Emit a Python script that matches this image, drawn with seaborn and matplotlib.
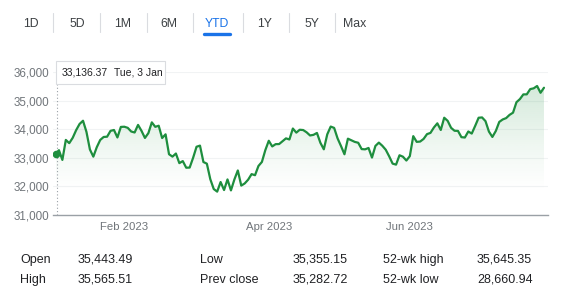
import numpy as np
import pandas as pd
import matplotlib
matplotlib.use("Agg")
import matplotlib.pyplot as plt
import seaborn as sns
from matplotlib.patches import Rectangle, Polygon
from matplotlib.lines import Line2D

# ---------------- data ----------------
closes = [
    # Jan
    33136.37, 33269.77, 32930.08, 33630.61, 33517.65, 33704.10, 33973.01, 34189.97,
    34302.61, 33910.85, 33296.96, 33044.56, 33375.49, 33629.56, 33733.96, 33743.84,
    33949.41, 33978.08, 33717.09, 34086.04,
    # Feb
    34092.96, 34053.94, 33926.01, 33891.02, 34156.69, 33949.01, 33699.88, 33869.27,
    34245.93, 34089.27, 34128.05, 33696.85, 33826.69, 33129.59, 33045.09, 33153.91,
    32816.92, 32889.09, 32656.70,
    # Mar
    32661.84, 33003.57, 33390.97, 33431.44, 32856.46, 32798.40, 32254.86, 31909.64,
    31819.14, 32155.40, 31874.57, 32246.55, 31861.98, 32244.58, 32560.60, 32030.11,
    32105.25, 32237.53, 32432.08, 32394.25, 32717.60, 32859.03, 33274.15,
    # Apr
    33601.15, 33402.38, 33482.72, 33485.29, 33586.52, 33684.79, 33646.50, 34029.69,
    33886.47, 33987.18, 33976.63, 33897.01, 33786.62, 33808.96, 33875.40, 33530.83,
    33301.87, 33826.16, 34098.16,
    # May
    34051.70, 33684.53, 33414.24, 33127.74, 33674.38, 33618.69, 33561.81, 33531.33,
    33309.51, 33300.62, 33348.60, 33012.14, 33420.77, 33535.91, 33426.63, 33286.58,
    33055.51, 32799.92, 32764.65, 33093.34, 33042.78, 32908.27,
    # Jun
    33061.57, 33762.76, 33562.86, 33573.28, 33665.02, 33833.61, 33876.78, 34066.33,
    34212.12, 33979.33, 34408.06, 34299.12, 34053.87, 33951.52, 33946.71, 33727.43,
    33714.71, 33926.74, 33852.66, 34122.42, 34407.60,
    # Jul
    34418.47, 34288.64, 33922.26, 33734.88, 33944.40, 34261.42, 34347.43, 34395.14,
    34509.03, 34585.35, 34951.93, 35061.21, 35225.18, 35227.69, 35411.24, 35438.07,
    35520.12, 35282.72, 35459.29,
]
start_date = "2023-01-03"
end_date = "2023-07-28"
holidays = ["2023-01-16", "2023-02-20", "2023-04-07", "2023-05-29", "2023-06-19", "2023-07-04"]
tick_months = ["2023-02", "2023-04", "2023-06"]
tick_labels = ["Feb 2023", "Apr 2023", "Jun 2023"]
y_ticks = [31000, 32000, 33000, 34000, 35000, 36000]
tabs = ["1D", "5D", "1M", "6M", "YTD", "1Y", "5Y", "Max"]
active_tab = "YTD"
tooltip_value = "33,136.37"
tooltip_date = "Tue, 3 Jan"
stat_labels = [["Open", "High"], ["Low", "Prev close"], ["52-wk high", "52-wk low"]]
stat_values = [["35,443.49", "35,565.51"], ["35,355.15", "35,282.72"], ["35,645.35", "28,660.94"]]

dates = pd.bdate_range(start_date, end_date, freq="C", holidays=holidays)
n = min(len(dates), len(closes))
df = pd.DataFrame({"idx": np.arange(n), "date": dates[:n], "close": closes[:n]})

# ---------------- figure ----------------
W, H = 564, 299
sns.set_theme(style="white")
plt.rcParams["font.family"] = ["Liberation Sans", "DejaVu Sans"]
fig = plt.figure(figsize=(W / 100, H / 100), dpi=100)
fig.patch.set_facecolor("white")

def fx(px):
    return px / W

def fy(py):
    return 1 - py / H

ax_left, ax_right, ax_top, ax_bot = 53, 548, 72.3, 215
ax = fig.add_axes([fx(ax_left), fy(ax_bot), (ax_right - ax_left) / W, (ax_bot - ax_top) / H])
ax.set_facecolor("white")

green = "#1e8e3e"
sns.lineplot(data=df, x="idx", y="close", color=green, lw=1.6, ax=ax, zorder=4)

# gradient fill under line
ymin, ymax = 31000, 36000
xs = df["idx"].to_numpy(float)
ys = df["close"].to_numpy(float)
verts = np.vstack([[xs[0], ymin], np.column_stack([xs, ys]), [xs[-1], ymin]])
poly = Polygon(verts, closed=True, facecolor="none", edgecolor="none")
ax.add_patch(poly)
grad = np.zeros((256, 1, 4))
rgb = matplotlib.colors.to_rgb(green)
grad[:, 0, 0:3] = rgb
grad[:, 0, 3] = np.linspace(0.26, 0.0, 256) ** 1.2
g_top = 35600
g_bot = 31800
im = ax.imshow(grad, extent=[xs[0], xs[-1], g_bot, g_top], aspect="auto",
               origin="upper", zorder=2, interpolation="bilinear")
im.set_clip_path(poly)

px_per = 3.44
x0_px = 55.5
ax.set_xlim((ax_left - x0_px) / px_per, (ax_right - x0_px) / px_per)
ax.set_ylim(ymin, ymax)

# start dot and hover line
ax.scatter([xs[0]], [ys[0]], s=30, color=green, zorder=6, linewidths=0)
ax.plot([xs[0] + 0.3, xs[0] + 0.3], [ymin, ymin + (ymax - ymin) * 0.918],
        color="#9aa0a6", lw=0.8, ls=(0, (1, 2)), zorder=3)

# axes styling
ax.set_yticks(y_ticks)
ax.set_yticklabels([f"{v:,}" for v in y_ticks])
tick_pos = [int(df.index[df["date"].dt.strftime("%Y-%m") == m][0]) for m in tick_months]
ax.set_xticks(tick_pos)
ax.set_xticklabels(tick_labels)
ax.set_xlabel("")
ax.set_ylabel("")
ax.grid(axis="y", color="#f1f3f4", lw=0.8)
ax.grid(axis="x", visible=False)
for s in ["top", "right", "left"]:
    ax.spines[s].set_visible(False)
ax.spines["bottom"].set_color("#9aa0a6")
ax.spines["bottom"].set_linewidth(1.0)
ax.tick_params(axis="y", length=0, pad=3, labelsize=8.4, labelcolor="#70757a")
ax.tick_params(axis="x", length=4.5, width=0.8, color="#9aa0a6", pad=0.5,
               labelsize=8.2, labelcolor="#70757a", direction="out")

# ---------------- tabs ----------------
tab_x = [31, 77, 123, 169, 217, 265, 312, 355]
sep_x = [53, 100, 147, 193, 243, 289, 335]
for t, x in zip(tabs, tab_x):
    fig.text(fx(x), fy(24), t, ha="center", va="center", fontsize=8.8,
             color="#1a73e8" if t == active_tab else "#3c4043")
for x in sep_x:
    fig.add_artist(Line2D([fx(x), fx(x)], [fy(13), fy(32)], color="#dadce0", lw=0.8))
fig.add_artist(Line2D([fx(204), fx(230)], [fy(34), fy(34)], color="#1a73e8", lw=2.4,
                      solid_capstyle="round"))

# ---------------- tooltip ----------------
fig.add_artist(Rectangle((fx(56.5), fy(85)), (165 - 55.5) / W, (85 - 61) / H,
                         facecolor="#00000010", edgecolor="none", zorder=9))
fig.add_artist(Rectangle((fx(55.5), fy(84)), (165 - 55.5) / W, (84 - 61) / H,
                         facecolor="white", edgecolor="#dadce0", lw=0.8, zorder=10))
fig.text(fx(61.5), fy(72), tooltip_value, ha="left", va="center", fontsize=7.5,
         color="#202124", zorder=11)
fig.text(fx(114), fy(72), tooltip_date, ha="left", va="center", fontsize=7.5,
         color="#202124", zorder=11)

# ---------------- stats ----------------
lab_x = [20, 200, 383]
val_x = [78, 293, 477]
row_y = [260, 280]
for c in range(3):
    for r in range(2):
        fig.text(fx(lab_x[c]), fy(row_y[r]), stat_labels[c][r], ha="left", va="center",
                 fontsize=9, color="#202124")
        fig.text(fx(val_x[c]), fy(row_y[r]), stat_values[c][r], ha="left", va="center",
                 fontsize=9, color="#202124")

fig.savefig("out.png", dpi=100, facecolor="white")
